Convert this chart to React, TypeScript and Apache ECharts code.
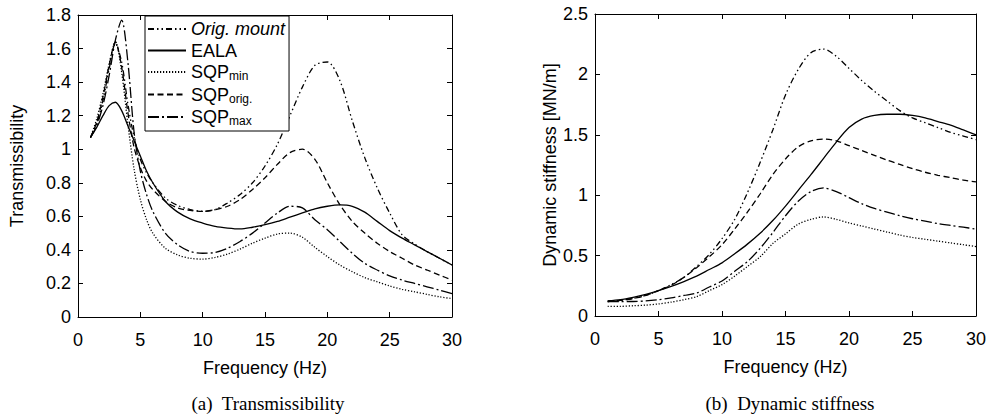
import React, { useEffect, useRef } from "react";
import * as echarts from "echarts";

// Frequencies (Hz) sampled for transmissibility (a)
const freqT = [1, 1.5, 2, 2.5, 3, 3.5, 4, 4.5, 5, 5.5, 6, 7, 8, 9, 10, 11, 12, 13, 14, 15, 16, 17, 18, 19, 20, 21, 22, 23, 24, 25, 26, 27, 28, 29, 30];
const origT = [1.07, 1.15, 1.29, 1.48, 1.63, 1.52, 1.27, 1.07, 0.94, 0.86, 0.8, 0.71, 0.665, 0.64, 0.63, 0.64, 0.68, 0.73, 0.8, 0.9, 1.03, 1.2, 1.37, 1.5, 1.52, 1.41, 1.17, 0.95, 0.77, 0.62, 0.49, 0.435, 0.39, 0.35, 0.31];
const ealaT = [1.07, 1.13, 1.2, 1.26, 1.28, 1.23, 1.14, 1.05, 0.96, 0.87, 0.8, 0.69, 0.625, 0.585, 0.56, 0.54, 0.53, 0.525, 0.535, 0.55, 0.57, 0.595, 0.62, 0.645, 0.66, 0.668, 0.66, 0.625, 0.57, 0.515, 0.47, 0.43, 0.39, 0.35, 0.31];
const sqpMinT = [1.07, 1.18, 1.33, 1.51, 1.64, 1.46, 1.15, 0.88, 0.7, 0.58, 0.5, 0.41, 0.37, 0.35, 0.345, 0.355, 0.375, 0.405, 0.44, 0.47, 0.495, 0.5, 0.475, 0.415, 0.36, 0.31, 0.27, 0.235, 0.21, 0.185, 0.165, 0.15, 0.135, 0.12, 0.11];
const sqpOrigT = [1.07, 1.16, 1.31, 1.5, 1.64, 1.49, 1.22, 1.01, 0.89, 0.81, 0.76, 0.69, 0.65, 0.635, 0.63, 0.64, 0.66, 0.7, 0.76, 0.83, 0.91, 0.98, 1.0, 0.94, 0.8, 0.67, 0.57, 0.5, 0.44, 0.39, 0.35, 0.31, 0.28, 0.25, 0.22];
const sqpMaxT = [1.07, 1.14, 1.26, 1.44, 1.65, 1.77, 1.52, 1.1, 0.87, 0.73, 0.63, 0.5, 0.43, 0.39, 0.38, 0.385, 0.41, 0.45, 0.5, 0.56, 0.62, 0.66, 0.65, 0.58, 0.52, 0.45, 0.38, 0.32, 0.28, 0.245, 0.22, 0.2, 0.18, 0.16, 0.14];

// Frequencies (Hz) sampled for dynamic stiffness (b), MN/m
const freqK = [1, 2, 3, 4, 5, 6, 7, 8, 9, 10, 11, 12, 13, 14, 15, 16, 17, 18, 19, 20, 21, 22, 23, 24, 25, 26, 27, 28, 29, 30];
const origK = [0.12, 0.13, 0.145, 0.17, 0.21, 0.26, 0.32, 0.41, 0.51, 0.64, 0.8, 1.02, 1.27, 1.54, 1.83, 2.04, 2.18, 2.21, 2.15, 2.05, 1.95, 1.86, 1.78, 1.7, 1.64, 1.6, 1.56, 1.52, 1.49, 1.46];
const ealaK = [0.125, 0.135, 0.155, 0.18, 0.21, 0.245, 0.285, 0.33, 0.385, 0.44, 0.515, 0.595, 0.685, 0.79, 0.91, 1.04, 1.17, 1.305, 1.44, 1.56, 1.63, 1.66, 1.67, 1.67, 1.66, 1.64, 1.61, 1.58, 1.54, 1.5];
const sqpMinK = [0.08, 0.08, 0.085, 0.09, 0.1, 0.115, 0.135, 0.16, 0.21, 0.26, 0.33, 0.41, 0.49, 0.6, 0.68, 0.76, 0.8, 0.82, 0.8, 0.77, 0.745, 0.72, 0.695, 0.67, 0.65, 0.635, 0.62, 0.605, 0.59, 0.575];
const sqpOrigK = [0.12, 0.13, 0.145, 0.17, 0.21, 0.255, 0.32, 0.4, 0.49, 0.59, 0.72, 0.86, 1.01, 1.17, 1.3, 1.4, 1.45, 1.465, 1.45, 1.41, 1.37, 1.33, 1.29, 1.255, 1.22, 1.19, 1.165, 1.145, 1.125, 1.11];
const sqpMaxK = [0.12, 0.12, 0.12, 0.125, 0.135, 0.15, 0.17, 0.19, 0.24, 0.29, 0.37, 0.45, 0.56, 0.69, 0.83, 0.95, 1.03, 1.06, 1.03, 0.98, 0.93, 0.89, 0.86, 0.83, 0.805, 0.785, 0.765, 0.75, 0.735, 0.72];

const seriesNames = ["Orig. mount", "EALA", "SQP_min", "SQP_orig.", "SQP_max"];
const dashes: any[] = [[6, 3, 1.5, 3, 1.5, 3], "solid", [1.2, 1.8], [6, 3.5], [11, 3, 2, 3]];
const xTicks = { min: 0, max: 30, interval: 5 };
const yTicksT = { min: 0, max: 1.8, interval: 0.2 };
const yTicksK = { min: 0, max: 2.5, interval: 0.5 };
const captions = ["(a)  Transmissibility", "(b)  Dynamic stiffness"];

const SANS = '"Liberation Sans", Arial, sans-serif';
const SERIF = '"Liberation Serif", "DejaVu Serif", serif';

function pairs(xs: number[], ys: number[]) {
  return xs.map((x, i) => [x, ys[i]]);
}

export default function App() {
  const ref = useRef<HTMLDivElement>(null);
  useEffect(() => {
    if (!ref.current) return;
    const chart = echarts.init(ref.current, null, { renderer: "svg" });
    const axisLine = { show: true, onZero: false, lineStyle: { color: "#000", width: 1 } };
    const tick = { show: true, inside: true, length: 5, lineStyle: { color: "#000", width: 1 } };
    const label = { color: "#000", fontSize: 18, fontFamily: SANS };
    const nameStyle = { color: "#000", fontSize: 18, fontFamily: SANS };
    const mkX = (g: number, top: boolean) => ({
      type: "value", gridIndex: g, ...xTicks, position: top ? "top" : "bottom",
      axisLine, axisTick: tick, splitLine: { show: false },
      axisLabel: top ? { show: false } : { ...label, margin: 14 },
      name: top ? "" : "Frequency (Hz)", nameLocation: "middle", nameGap: 42, nameTextStyle: nameStyle,
    });
    const mkY = (g: number, right: boolean, ticks: any, name: string, gap: number) => ({
      type: "value", gridIndex: g, ...ticks, position: right ? "right" : "left",
      axisLine, axisTick: tick, splitLine: { show: false },
      axisLabel: right ? { show: false } : { ...label, margin: 7 },
      name: right ? "" : name, nameLocation: "middle", nameGap: gap, nameTextStyle: nameStyle,
    });
    const tSeries = [origT, ealaT, sqpMinT, sqpOrigT, sqpMaxT];
    const kSeries = [origK, ealaK, sqpMinK, sqpOrigK, sqpMaxK];
    const mkSeries = (vals: number[][], xs: number[], g: number) =>
      vals.map((v, i) => ({
        type: "line", name: seriesNames[i], xAxisIndex: g * 2, yAxisIndex: g * 2,
        data: pairs(xs, v), symbol: "none", smooth: 0.3,
        lineStyle: { color: "#000", width: 1.3, type: dashes[i] },
        itemStyle: { color: "#000" },
      }));
    const option: any = {
      animation: false,
      grid: [
        { left: 78, top: 15, width: 374, height: 302 },
        { left: 595, top: 14, width: 381, height: 302 },
      ],
      xAxis: [mkX(0, false), mkX(0, true), mkX(1, false), mkX(1, true)],
      yAxis: [
        mkY(0, false, yTicksT, "Transmissibility", 52),
        mkY(0, true, yTicksT, "", 0),
        mkY(1, false, yTicksK, "Dynamic stiffness [MN/m]", 34),
        mkY(1, true, yTicksK, "", 0),
      ],
      legend: {
        data: seriesNames, orient: "vertical", left: 145, top: 16,
        padding: [4, 4, 4, 2], itemGap: 3.5, itemWidth: 38, itemHeight: 14,
        itemStyle: { opacity: 0, borderWidth: 0 },
        backgroundColor: "#fff", borderColor: "#000", borderWidth: 1, borderRadius: 0,
        textStyle: {
          color: "#000", fontSize: 18, fontFamily: SANS,
          rich: {
            i: { fontStyle: "italic", fontSize: 18, fontFamily: SANS, lineHeight: 20 },
            b: { fontSize: 18, fontFamily: SANS, lineHeight: 20 },
            s: { fontSize: 12, fontFamily: SANS, lineHeight: 11, verticalAlign: "bottom" },
          },
        },
        formatter: (n: string) => {
          if (n.startsWith("Orig")) return "{i|" + n + "}";
          if (n.indexOf("_") >= 0) {
            const [a, b] = n.split("_");
            return "{b|" + a + "}{s|" + b + "}";
          }
          return "{b|" + n + "}";
        },
      },
      series: [...mkSeries(tSeries, freqT, 0), ...mkSeries(kSeries, freqK, 1)],
      graphic: [
        { type: "text", x: 268, y: 403, style: { text: captions[0], fill: "#000", fontSize: 19, fontFamily: SERIF, textAlign: "center", textVerticalAlign: "middle" } },
        { type: "text", x: 790, y: 403, style: { text: captions[1], fill: "#000", fontSize: 19, fontFamily: SERIF, textAlign: "center", textVerticalAlign: "middle" } },
      ],
    };
    chart.setOption(option);
    return () => chart.dispose();
  }, []);
  return <div ref={ref} style={{ position: "absolute", left: 0, top: 0, width: 992, height: 420, background: "#fff" }} />;
}
